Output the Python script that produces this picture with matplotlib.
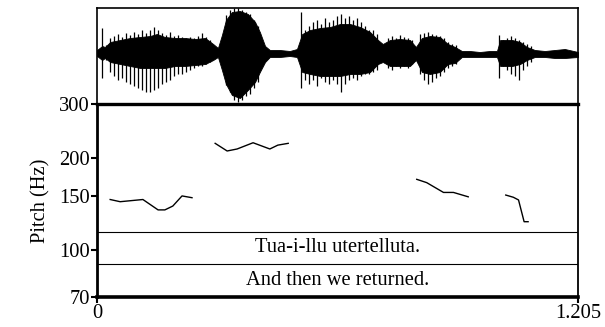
import matplotlib.pyplot as plt
import numpy as np

plt.rcParams['font.family'] = ['Liberation Serif', 'DejaVu Serif']

# === данные ===
DUR = 1.205

# огибающая волны: время (мс), верх и низ плотной части (усл. ед.)
wave_ms = [0, 13, 20, 33, 58, 83, 108, 133, 150, 170,
           195, 220, 246, 271, 291, 303, 313, 323, 338, 358,
           378, 396, 408, 421, 433, 458, 483, 501, 514, 534,
           559, 584, 609, 634, 659, 684, 704, 716, 734, 759,
           784, 799, 814, 834, 859, 879, 897, 914, 934, 959,
           984, 1002, 1010, 1022, 1040, 1060, 1077, 1097, 1122, 1147,
           1172, 1205]
wave_top = [6, 10, 9, 14, 16, 18, 19, 20, 22, 19,
            18, 18, 17, 18, 12, 8, 21, 36, 44, 45,
            42, 34, 24, 10, 6, 6, 5, 7, 22, 26,
            28, 29, 32, 32, 29, 24, 16, 12, 16, 17,
            16, 9, 18, 20, 19, 12, 9, 5, 5, 4,
            5, 5, 16, 16, 16, 14, 9, 6, 5, 6,
            7, 4]
wave_bot = [0, -4, -2, -6, -8, -10, -12, -12, -12, -12,
            -10, -10, -9, -8, -4, -1, -14, -28, -39, -42,
            -34, -26, -16, -6, -1, -1, 0, -1, -16, -18,
            -20, -20, -20, -18, -18, -16, -8, -6, -10, -10,
            -10, -4, -16, -18, -16, -8, -7, -1, -1, -1,
            -1, -1, -10, -10, -10, -8, -4, -1, -1, -2,
            -2, -1]

# отдельные периоды (пики) волны: время (мс), верх, низ
spike_ms = [12, 23, 33, 43, 53, 63, 73, 83, 93, 103,
            113, 123, 133, 143, 153, 163, 173, 183, 193, 203,
            213, 223, 233, 243, 253, 263, 273, 283,
            323, 333, 343, 353, 363, 373, 383, 393, 403,
            511, 521, 531, 541, 551, 561, 571, 581, 591, 601,
            611, 622, 631, 641, 651, 661, 671, 681, 691, 701,
            729, 739, 749, 759, 769, 779, 789, 809, 819, 829,
            839, 849, 859, 869, 879, 889, 899,
            1007, 1017, 1027, 1037, 1047, 1057, 1067, 1077, 1087]
spike_top = [28, 11, 18, 20, 22, 19, 23, 21, 24, 22,
             26, 23, 26, 29, 26, 23, 21, 24, 20, 21,
             19, 18, 19, 18, 20, 23, 19, 16,
             41, 46, 48, 48, 46, 44, 42, 36, 30,
             44, 26, 30, 34, 36, 32, 38, 34, 36, 40,
             42, 38, 40, 36, 38, 34, 30, 26, 26, 22,
             18, 20, 18, 21, 19, 18, 16, 22, 23, 24,
             22, 21, 20, 18, 14, 12, 11,
             21, 16, 18, 20, 18, 16, 14, 12, 10]
spike_bot = [-22, -4, -16, -20, -24, -22, -26, -28, -30, -32,
             -34, -36, -36, -34, -32, -28, -26, -24, -20, -18,
             -18, -16, -14, -12, -10, -10, -8, -6,
             -29, -36, -44, -46, -44, -40, -38, -32, -26,
             -32, -24, -28, -24, -30, -22, -26, -28, -24, -28,
             -36, -28, -24, -22, -24, -20, -18, -18, -16, -14,
             -12, -14, -10, -12, -10, -12, -8, -18, -24, -28,
             -26, -22, -20, -16, -12, -10, -8,
             -22, -10, -14, -18, -20, -24, -14, -10, -6]

# контуры высоты тона (Гц)
pitch_t = [
    [0.033, 0.058, 0.115, 0.153, 0.170, 0.190, 0.213, 0.238],
    [0.296, 0.326, 0.351, 0.391, 0.433, 0.453, 0.479],
    [0.801, 0.826, 0.868, 0.893, 0.930],
    [1.024, 1.043, 1.056, 1.070, 1.080],
]
pitch_hz = [
    [146, 143.6, 146, 135, 135, 139, 150, 148],
    [223, 210.5, 213.7, 224, 213.7, 220, 223],
    [170, 165.8, 154, 154, 149],
    [151, 148.5, 145.5, 123.5, 123.5],
]

tier_texts = ["Tua-i-llu utertelluta.", "And then we returned."]
yticks = [70, 100, 150, 200, 300]

# === рисунок ===
W, H = 605, 327
FS = 14.8
fig = plt.figure(figsize=(W / 100, H / 100), dpi=100)
left, right = 97, 578
ax_w = fig.add_axes([left / W, 1 - 104 / H, (right - left) / W, 96 / H])
ax_p = fig.add_axes([left / W, 1 - 297 / H, (right - left) / W, 193 / H])

# волна
ax_w.fill_between(wave_ms, wave_bot, wave_top, color="black", lw=0.6)
ax_w.vlines(spike_ms, spike_bot, spike_top, color="black", lw=0.9)
ax_w.set_xlim(0, DUR * 1000)
ax_w.set_ylim(-48, 48)
ax_w.set_xticks([])
ax_w.set_yticks([])
for s in ax_w.spines.values():
    s.set_linewidth(1.2)
ax_w.spines["bottom"].set_visible(False)

# высота тона
for t, hz in zip(pitch_t, pitch_hz):
    ax_p.plot(t, hz, color="black", lw=1.0)

ax_p.set_yscale("log")
ax_p.set_ylim(70, 300)
ax_p.set_xlim(0, DUR)
ax_p.set_yticks(yticks)
ax_p.set_yticklabels([str(v) for v in yticks])
ax_p.minorticks_off()
ax_p.set_xticks([0, DUR])
ax_p.set_xticklabels(["0", "1.205"])
ax_p.tick_params(direction="out", length=4, width=1.5, labelsize=FS, pad=1)
ax_p.set_ylabel("Pitch (Hz)", fontsize=FS, labelpad=6)

ax_p.spines["left"].set_linewidth(2.0)
ax_p.spines["bottom"].set_linewidth(2.6)
ax_p.spines["top"].set_linewidth(2.4)
ax_p.spines["right"].set_linewidth(1.3)

# ярусы с текстом
for yy in [0.337, 0.171]:
    ax_p.plot([0, 1], [yy, yy], transform=ax_p.transAxes, color="black", lw=0.8)
for yy, txt in zip([0.254, 0.088], tier_texts):
    ax_p.text(0.5, yy, txt, transform=ax_p.transAxes, ha="center", va="center",
              fontsize=FS)

plt.savefig("out.png", dpi=100)
